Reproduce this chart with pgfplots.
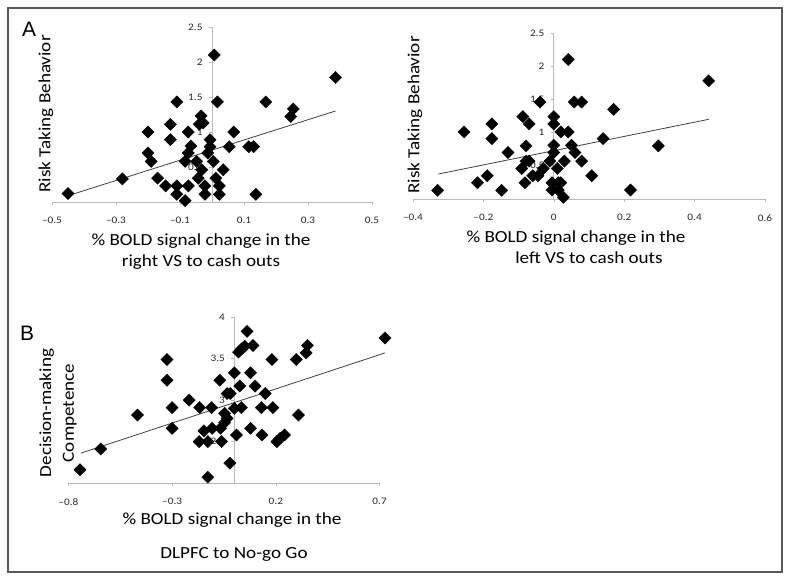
\documentclass[border=0pt]{standalone}
\usepackage{pgfplots}
\pgfplotsset{compat=1.18}
\usepackage{fontspec}
\setmainfont{Carlito}[FakeStretch=1.13]
\newfontfamily\arialfont{Liberation Sans}

\pgfplotstableread{
x y
-0.45 0.12
-0.28 0.33
-0.20 1.00
-0.20 0.70
-0.19 0.58
-0.17 0.34
-0.145 0.23
-0.13 1.11
-0.13 0.89
-0.11 1.43
-0.11 0.23
-0.11 0.11
-0.084 0.02
-0.074 1.00
-0.074 0.23
-0.074 0.70
-0.084 0.58
-0.066 0.80
-0.04 1.11
-0.034 1.23
-0.028 1.13
-0.048 0.58
-0.043 0.34
-0.032 0.46
-0.022 0.23
-0.022 0.11
-0.006 0.89
-0.006 0.79
-0.013 0.70
0.007 2.10
0.017 1.43
0.004 0.58
0.012 0.34
0.023 0.23
0.023 0.11
0.035 0.46
0.054 0.79
0.068 1.00
0.115 0.79
0.13 0.79
0.137 0.11
0.168 1.43
0.246 1.22
0.254 1.33
0.386 1.78
}\rightvs

\pgfplotstableread{
x y
-0.33 0.13
-0.255 1.01
-0.217 0.245
-0.189 0.35
-0.176 1.13
-0.176 0.91
-0.148 0.13
-0.13 0.70
-0.088 1.24
-0.07 1.13
-0.079 0.80
-0.079 0.57
-0.07 0.57
-0.091 0.46
-0.082 0.245
-0.06 0.35
-0.045 0.35
-0.039 1.46
-0.03 0.46
-0.011 0.57
0.0 1.24
0.0 1.13
0.0 0.81
0.0 0.70
-0.005 0.245
0.013 0.245
0.02 0.245
-0.005 0.135
0.013 0.135
0.027 0.025
0.02 1.01
0.041 1.01
0.041 2.10
0.03 0.57
0.01 0.46
0.05 0.81
0.06 0.70
0.079 0.57
0.058 1.46
0.079 1.46
0.108 0.35
0.14 0.91
0.17 1.35
0.218 0.135
0.297 0.80
0.44 1.78
}\leftvs

\pgfplotstableread{
x y
-0.744 2.16
-0.644 2.41
-0.467 2.82
-0.325 3.49
-0.325 3.24
-0.30 2.91
-0.30 2.66
-0.218 3.00
-0.167 2.91
-0.11 2.91
-0.17 2.50
-0.128 2.50
-0.147 2.63
-0.107 2.66
-0.128 2.07
-0.07 3.24
-0.067 2.66
-0.062 2.50
-0.047 2.73
-0.035 2.78
-0.047 2.84
-0.022 2.24
-0.035 3.08
-0.02 3.08
0.0 3.33
0.0 2.90
0.01 2.58
0.026 3.17
0.034 2.91
0.061 3.83
0.02 3.58
0.035 3.62
0.05 3.65
0.09 3.66
0.078 3.33
0.078 2.66
0.10 3.17
0.13 2.91
0.149 3.08
0.133 2.58
0.181 3.49
0.186 2.91
0.205 2.50
0.221 2.54
0.242 2.58
0.298 3.49
0.309 2.82
0.346 3.57
0.352 3.66
0.726 3.75
}\dlpfc

\pgfplotsset{
  myax/.style={
    scale only axis,
    axis x line=bottom, axis y line=middle,
    axis line style={-, draw=gray!55, line width=0.8bp},
    enlargelimits=false, clip=false,
    tick style={draw=gray!55, line width=0.6bp},
    major tick length=3bp,
    tick align=outside,
    tick label style={font=\fontsize{10}{12}\selectfont, text=black!85},
    xticklabel style={yshift=-9bp},
    yticklabel style={xshift=-3bp},
  },
  dots/.style={only marks, mark=square*, mark size=4.3bp,
    mark options={rotate=45, fill=black, draw=black}},
  trend/.style={no marks, draw=black!75, line width=0.8bp},
}

\begin{document}
\begin{tikzpicture}
\useasboundingbox (0bp,0bp) rectangle (788bp,580bp);
\draw[draw=black!65, line width=1.3bp] (8bp,8bp) rectangle (782bp,572bp);

% Panel A left
\begin{axis}[myax, at={(52bp,378bp)}, anchor=south west,
  width=320bp, height=175bp,
  xmin=-0.5, xmax=0.5, ymin=0, ymax=2.5,
  xtick={-0.5,-0.3,-0.1,0.1,0.3,0.5},
  xticklabels={–0.5,–0.3,–0.1,0.1,0.3,0.5},
  ytick={0,0.5,1,1.5,2,2.5},
  yticklabels={0,0.5,1,1.5,2,2.5}]
\addplot[dots] table[x index=0,y index=1] {\rightvs};
\addplot[trend] coordinates {(-0.45,0.09) (0.386,1.30)};
\end{axis}

% Panel A right
\begin{axis}[myax, at={(413bp,381bp)}, anchor=south west,
  width=352bp, height=166bp,
  xmin=-0.4, xmax=0.6, ymin=0, ymax=2.5,
  xtick={-0.4,-0.2,0,0.2,0.4,0.6},
  xticklabels={–0.4,–0.2,0,0.2,0.4,0.6},
  ytick={0,0.5,1,1.5,2,2.5},
  yticklabels={0,0.5,1,1.5,2,2.5}]
\addplot[dots] table[x index=0,y index=1] {\leftvs};
\addplot[trend] coordinates {(-0.328,0.376) (0.44,1.20)};
\end{axis}

% Panel B
\begin{axis}[myax, at={(68.4bp,97bp)}, anchor=south west,
  width=311.2bp, height=165.7bp,
  xmin=-0.8, xmax=0.7, ymin=2, ymax=4,
  xtick={-0.8,-0.3,0.2,0.7},
  xticklabels={–0.8,–0.3,0.2,0.7},
  ytick={2,2.5,3,3.5,4},
  yticklabels={2,2.5,3,3.5,4}]
\addplot[dots] table[x index=0,y index=1] {\dlpfc};
\addplot[trend] coordinates {(-0.74,2.36) (0.726,3.57)};
\end{axis}

% Panel letters
\node[font=\arialfont\fontsize{21}{24}\selectfont] at (29bp,550.5bp) {A};
\node[font=\arialfont\fontsize{21}{24}\selectfont] at (27bp,247bp) {B};

% Axis labels
\node[rotate=90, font=\fontsize{17}{21}\selectfont] at (46bp,466bp) {Risk Taking Behavior};
\node[rotate=90, font=\fontsize{17}{21}\selectfont] at (415bp,465bp) {Risk Taking Behavior};
\node[rotate=90, font=\fontsize{17}{23}\selectfont, align=center] at (58bp,167bp) {Decision-making\\Competence};

\node[font=\fontsize{17}{21}\selectfont, anchor=base] at (201bp,334bp) {\% BOLD signal change in the};
\node[font=\fontsize{17}{21}\selectfont, anchor=base] at (201bp,313bp) {right VS to cash outs};
\node[font=\fontsize{17}{21}\selectfont, anchor=base] at (576bp,337bp) {\% BOLD signal change in the};
\node[font=\fontsize{17}{21}\selectfont, anchor=base] at (589bp,316bp) {left VS to cash outs};
\node[font=\fontsize{17}{21}\selectfont, anchor=base] at (232bp,55bp) {\% BOLD signal change in the};
\node[font=\fontsize{17}{21}\selectfont, anchor=base] at (234bp,22bp) {DLPFC to No-go Go};
\end{tikzpicture}
\end{document}
